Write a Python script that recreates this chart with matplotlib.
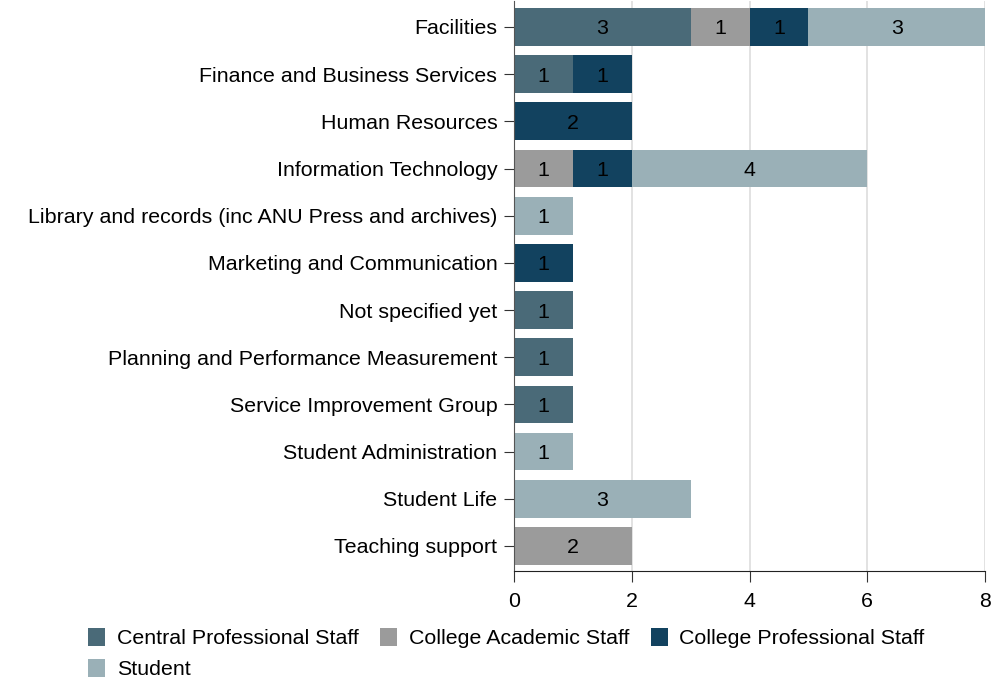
import numpy as np
import matplotlib
matplotlib.use("Agg")
import matplotlib.pyplot as plt

plt.rcParams["font.family"] = ["Liberation Sans", "DejaVu Sans"]

# 数据
categories = [
    "Facilities",
    "Finance and Business Services",
    "Human Resources",
    "Information Technology",
    "Library and records (inc ANU Press and archives)",
    "Marketing and Communication",
    "Not specified yet",
    "Planning and Performance Measurement",
    "Service Improvement Group",
    "Student Administration",
    "Student Life",
    "Teaching support",
]
series_names = [
    "Central Professional Staff",
    "College Academic Staff",
    "College Professional Staff",
    "Student",
]
central_prof = [3, 1, 0, 0, 0, 0, 1, 1, 1, 0, 0, 0]
college_acad = [1, 0, 0, 1, 0, 0, 0, 0, 0, 0, 0, 2]
college_prof = [1, 1, 2, 1, 0, 1, 0, 0, 0, 0, 0, 0]
student = [3, 0, 0, 4, 1, 0, 0, 0, 0, 1, 3, 0]
colors = ["#4a6a78", "#9b9b9b", "#12425f", "#9ab0b7"]

FS = 15.4

fig = plt.figure(figsize=(9.99, 6.83), dpi=100)
ax = fig.add_axes([514 / 999, 1 - 571 / 683, (985 - 514) / 999, (571 - 1) / 683])

y = np.arange(len(categories))
left = np.zeros(len(categories))
handles = []
for name, vals, col in zip(series_names, [central_prof, college_acad, college_prof, student], colors):
    vals = np.array(vals, dtype=float)
    bars = ax.barh(y, vals, left=left, height=0.8, color=col, label=name, zorder=2)
    handles.append(bars)
    for yi, (l, v) in enumerate(zip(left, vals)):
        if v > 0:
            ax.text(l + v / 2, yi, f"{int(v)}", ha="center", va="center_baseline",
                    fontsize=FS, color="black", zorder=3)
    left += vals

ax.set_xlim(0, 8)
ax.set_ylim(len(categories) - 0.47, -0.55)
ax.set_xticks([0, 2, 4, 6, 8])
ax.set_yticks(y)
ax.set_yticklabels(categories, fontsize=FS)
ax.tick_params(axis="x", labelsize=FS, length=8, color="#333333", pad=7)
ax.tick_params(axis="y", length=7, color="#333333", pad=5)
ax.grid(axis="x", color="#dddddd", linewidth=1.2, zorder=0)
for s in ["top", "right"]:
    ax.spines[s].set_visible(False)
ax.spines["left"].set_color("#555555")
ax.spines["bottom"].set_color("#222222")

# 图例：按行排布
order = [0, 3, 1, 2]
fig.legend([handles[i] for i in order], [series_names[i] for i in order],
           ncol=3, loc="upper left", bbox_to_anchor=(0.073, 1 - 613 / 683),
           frameon=False, fontsize=FS, handlelength=0.8, handleheight=0.9,
           handletextpad=0.55, columnspacing=1.0, labelspacing=0.5, borderpad=0.2)

plt.savefig("out.png", dpi=100)
